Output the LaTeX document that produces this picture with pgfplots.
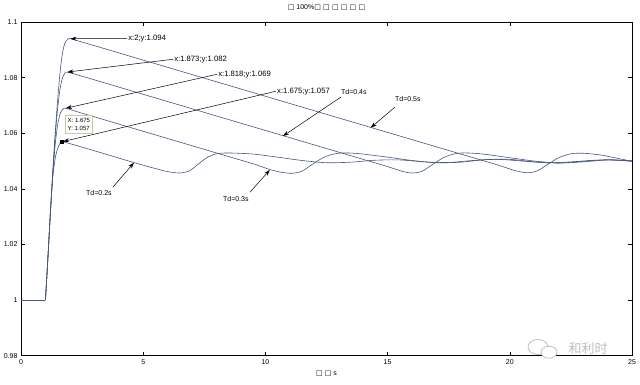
\documentclass[border=0pt]{standalone}
\usepackage{fontspec}
\setmainfont{Liberation Sans}
\newfontfamily\symfont{DejaVu Sans}
\newfontfamily\cjkfont{Noto Sans CJK SC}
\usepackage{pgfplots}
\pgfplotsset{compat=1.18}
\usetikzlibrary{arrows.meta}
\definecolor{curve}{RGB}{70,86,128}
\definecolor{wm}{RGB}{190,190,190}
\begin{document}
\begin{tikzpicture}
\useasboundingbox (-21pt,-28.3pt) rectangle (619pt,355.7pt);
\begin{axis}[
  scale only axis, width=611pt, height=333.7pt,
  xmin=0, xmax=25, ymin=0.98, ymax=1.1,
  xtick={0,5,10,15,20,25},
  ytick={0.98,1,1.02,1.04,1.06,1.08,1.1},
  tick align=inside, major tick length=4pt,
  tick style={black, line width=0.6pt},
  axis line style={black, line width=0.6pt},
  ticklabel style={font=\fontsize{7}{8}\selectfont},
  /pgf/number format/assume math mode=true,
  title={{\symfont □} 100\%{\symfont □ □ □ □ □ □}},
  title style={font=\fontsize{7}{8}\selectfont, at={(axis description cs:0.5,1)}, anchor=center, yshift=8.7pt},
  xlabel={{\symfont □ □} s},
  xlabel style={font=\fontsize{7}{8}\selectfont, at={(axis description cs:0.5,0)}, anchor=center, yshift=-18.3pt},
  clip=false,
]
\addplot[curve, line width=0.6pt] coordinates {(0,1) (1,1)};
% Td = 0.5 s
\addplot[curve, line width=0.6pt, smooth, tension=0.5] coordinates {
(1,1)(1.1,1.015)(1.2,1.031)(1.3,1.046)(1.4,1.060)(1.5,1.072)(1.6,1.082)(1.7,1.089)(1.8,1.0925)(1.9,1.0937)(2,1.094)
(2.5,1.0928)(4,1.0889)(6,1.0837)(8,1.0785)(10,1.0733)(12,1.0681)(14,1.0629)(16,1.0577)(18,1.0525)(19.5,1.0486)
(20.2,1.0466)(20.7,1.0458)(21.1,1.0464)(21.5,1.0485)(22,1.0512)(22.5,1.0526)(23,1.0528)(23.7,1.0522)(24.4,1.0510)(25,1.0499)};
% Td = 0.4 s
\addplot[curve, line width=0.6pt, smooth, tension=0.5] coordinates {
(1,1)(1.1,1.015)(1.2,1.031)(1.3,1.046)(1.4,1.059)(1.5,1.069)(1.6,1.076)(1.7,1.0800)(1.8,1.0816)(1.873,1.082)
(2.5,1.0805)(4,1.0766)(6,1.0714)(8,1.0662)(10,1.0610)(12,1.0558)(14,1.0506)(15,1.0480)(15.6,1.0463)(16.0,1.0457)
(16.4,1.0463)(16.8,1.0485)(17.3,1.0513)(17.8,1.0527)(18.3,1.0529)(19,1.0524)(20,1.0512)(21,1.0500)(22,1.0493)(23,1.0497)(24,1.0504)(25,1.0501)};
% Td = 0.3 s
\addplot[curve, line width=0.6pt, smooth, tension=0.5] coordinates {
(1,1)(1.1,1.015)(1.2,1.031)(1.3,1.045)(1.4,1.056)(1.5,1.063)(1.6,1.0670)(1.7,1.0685)(1.818,1.069)
(2.5,1.0672)(4,1.0633)(6,1.0581)(8,1.0529)(9.5,1.0490)(10.2,1.0469)(10.7,1.0459)(11.1,1.0456)(11.5,1.0464)
(11.9,1.0487)(12.4,1.0514)(12.9,1.0527)(13.4,1.0529)(14,1.0525)(15,1.0514)(16,1.0502)(17,1.0494)(18,1.0496)
(19,1.0505)(20,1.0506)(21,1.0497)(22,1.0493)(23,1.0499)(24,1.0505)(25,1.0500)};
% Td = 0.2 s
\addplot[curve, line width=0.6pt, smooth, tension=0.5] coordinates {
(1,1)(1.1,1.015)(1.2,1.031)(1.3,1.044)(1.4,1.051)(1.5,1.0545)(1.6,1.0564)(1.675,1.057)
(2.5,1.0550)(3.5,1.0524)(4.6,1.0495)(5.5,1.0473)(6.0,1.0462)(6.5,1.0457)(6.9,1.0465)(7.2,1.0485)(7.6,1.0512)
(8.0,1.0526)(8.5,1.0529)(9.5,1.0525)(10.5,1.0514)(11.5,1.0502)(12.5,1.0494)(13.5,1.0496)(14.5,1.0503)(15.5,1.0504)
(16.5,1.0497)(17.5,1.0495)(18.5,1.0502)(19.5,1.0506)(20.5,1.0500)(21.5,1.0494)(22.5,1.0497)(23.5,1.0503)(24.3,1.0503)(25,1.0499)};
% datatip marker
\addplot[only marks, mark=square*, mark size=1.6pt, black] coordinates {(1.675,1.057)};

\node[draw={rgb,255:red,205;green,195;blue,165}, fill=white, anchor=north west, inner sep=2.5pt, align=left,
      font=\fontsize{6}{8.3}\selectfont] at (axis cs:1.8,1.0665) {X: 1.675\\Y: 1.057};

\begin{scope}[every node/.style={font=\fontsize{7.7}{9}\selectfont, inner sep=1pt}]
\draw[-{Stealth[length=6pt,width=4pt]}, line width=0.5pt] (axis cs:4.34,1.0941) node[anchor=west]{x:2;y:1.094} -- (axis cs:2.02,1.094);
\draw[-{Stealth[length=6pt,width=4pt]}, line width=0.5pt] (axis cs:6.22,1.0866) node[anchor=west]{x:1.873;y:1.082} -- (axis cs:1.9,1.082);
\draw[-{Stealth[length=6pt,width=4pt]}, line width=0.5pt] (axis cs:8.02,1.0812) node[anchor=west]{x:1.818;y:1.069} -- (axis cs:1.84,1.069);
\draw[-{Stealth[length=6pt,width=4pt]}, line width=0.5pt] (axis cs:10.43,1.0751) node[anchor=west]{x:1.675;y:1.057} -- (axis cs:1.72,1.057);
\end{scope}

\begin{scope}[every node/.style={font=\fontsize{7}{8}\selectfont}]
\draw[-{Stealth[length=6pt,width=4pt]}, line width=0.5pt] (axis cs:15.30,1.0694) -- (axis cs:14.31,1.0620);
\node at (axis cs:15.83,1.0722) {Td=0.5s};
\draw[-{Stealth[length=6pt,width=4pt]}, line width=0.5pt] (axis cs:13.09,1.0730) -- (axis cs:10.72,1.0590);
\node at (axis cs:13.62,1.0748) {Td=0.4s};
\draw[-{Stealth[length=6pt,width=4pt]}, line width=0.5pt] (axis cs:3.76,1.0406) -- (axis cs:4.62,1.0494);
\node at (axis cs:3.19,1.0385) {Td=0.2s};
\draw[-{Stealth[length=6pt,width=4pt]}, line width=0.5pt] (axis cs:9.37,1.0388) -- (axis cs:10.18,1.0468);
\node at (axis cs:8.79,1.0363) {Td=0.3s};
\end{scope}
\end{axis}
% watermark
\draw[wm, line width=0.8pt] (517pt,8.7pt) ellipse (10pt and 7.5pt);
\draw[wm, line width=0.8pt, fill=white] (528pt,3.5pt) ellipse (8pt and 6pt);
\node[wm, font=\cjkfont\fontsize{13}{14}\selectfont, inner sep=0pt] at (567pt,6.7pt) {和利时};
\end{tikzpicture}
\end{document}
